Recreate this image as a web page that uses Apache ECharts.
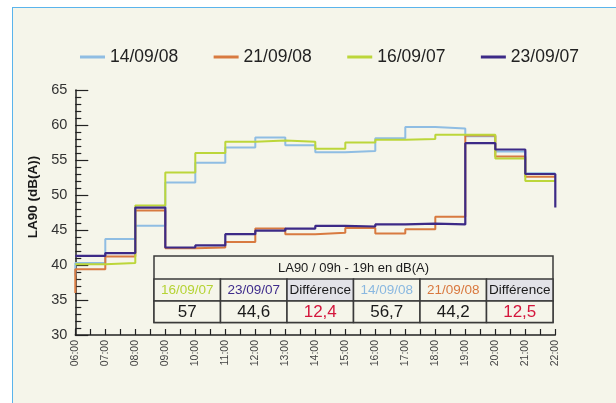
<!DOCTYPE html>
<html>
<head>
<meta charset="utf-8">
<script src="https://cdn.jsdelivr.net/npm/echarts@6.0.0/dist/echarts.min.js"></script>
<style>
html,body{margin:0;padding:0;background:#ffffff;}
#wrap{position:relative;width:616px;height:403px;overflow:hidden;}
#bg{position:absolute;left:12px;top:7px;right:0;bottom:0;background:#f5f5ea;border-left:1.5px solid #5ab4ec;border-top:1.5px solid #5ab4ec;}
#chart{position:absolute;left:0;top:0;width:616px;height:403px;}
</style>
</head>
<body>
<div id="wrap"><div id="bg"></div><div id="chart"></div></div>
<script>
// ---- data ----
var hours = [6,7,8,9,10,11,12,13,14,15,16,17,18,19,20,21,22];
var seriesNames = ['14/09/08','21/09/08','16/09/07','23/09/07'];
// value held from each hour to the next (last entry = value at 22:00)
var la90_140908 = [40.3,43.7,45.6,51.8,54.6,56.8,58.2,57.1,56.1,56.3,58.1,59.7,59.5,58.4,56.2,53.1,53.1];
var la90_210908 = [39.4,41.2,47.8,42.4,42.5,43.3,45.2,44.4,44.6,45.3,44.5,45.1,46.9,58.5,55.5,52.6,52.6];
var la90_160907 = [40.1,40.3,48.5,53.2,56.0,57.6,57.8,57.6,56.6,57.5,57.9,58.0,58.6,58.6,55.2,52.0,52.0];
var la90_230907 = [41.3,41.7,48.2,42.5,42.8,44.4,44.9,45.2,45.6,45.5,45.8,45.9,45.8,57.4,56.5,53.0,48.2];
// value the line rises from at 06:00 (null = none)
var startValues = [38.5, 36.0, null, null];
var yTicks = [30,35,40,45,50,55,60,65];
var tableTitle = 'LA90 / 09h - 19h en dB(A)';
var tableHeaders = ['16/09/07','23/09/07','Différence','14/09/08','21/09/08','Différence'];
var tableValues = ['57','44,6','12,4','56,7','44,2','12,5'];

// ---- styles ----
var colors = ['#8fbde3','#d87a40','#bcd63a','#3c2a87'];
var headerColors = ['#b5d334','#3f2d8c','#1a1a1a','#8ab8e0','#d9783e','#1a1a1a'];
var valueColors = ['#1a1a1a','#1a1a1a','#d4163c','#1a1a1a','#1a1a1a','#d4163c'];
var headerFill = ['#f5f5ea','#f5f5ea','#e3e3e8','#f5f5ea','#f5f5ea','#e3e3e8'];
var FONT = '"Liberation Sans", Arial, sans-serif';

var allVals = [la90_140908, la90_210908, la90_160907, la90_230907];
function buildPts(idx){
  var pts = [];
  if (startValues[idx] !== null) pts.push([hours[0], startValues[idx]]);
  for (var i=0;i<hours.length;i++) pts.push([hours[i], allVals[idx][i]]);
  return pts;
}
var series = seriesNames.map(function(n,i){
  return {name:n,type:'line',step:'end',symbol:'none',data:buildPts(i),
    lineStyle:{color:colors[i],width:i===3?2.2:2},itemStyle:{color:colors[i]},z:2+i,animation:false};
});

// table as graphic
var tx = 154, ty = 256, cw = 66.5, rh = [23, 22, 21.5];
var g = [];
var tw = cw*6;
g.push({type:'rect',shape:{x:tx,y:ty,width:tw,height:rh[0]+rh[1]+rh[2]},style:{fill:'#f5f5ea',stroke:'#3a3a3a',lineWidth:1.5},z:10});
for (var c=0;c<6;c++){
  g.push({type:'rect',shape:{x:tx+c*cw,y:ty+rh[0],width:cw,height:rh[1]},style:{fill:headerFill[c],stroke:'#3a3a3a',lineWidth:1.5},z:11});
  g.push({type:'rect',shape:{x:tx+c*cw,y:ty+rh[0]+rh[1],width:cw,height:rh[2]},style:{fill:'#f5f5ea',stroke:'#3a3a3a',lineWidth:1.5},z:11});
  g.push({type:'text',x:tx+c*cw+cw/2,y:ty+rh[0]+rh[1]/2+0.5,style:{text:tableHeaders[c],fill:headerColors[c],font:'13.5px '+FONT,align:'center',verticalAlign:'middle'},z:12});
  g.push({type:'text',x:tx+c*cw+cw/2,y:ty+rh[0]+rh[1]+rh[2]/2+0.5,style:{text:tableValues[c],fill:valueColors[c],font:'17px '+FONT,align:'center',verticalAlign:'middle'},z:12});
}
g.push({type:'text',x:tx+tw/2,y:ty+rh[0]/2+0.5,style:{text:tableTitle,fill:'#1a1a1a',font:'13px '+FONT,align:'center',verticalAlign:'middle'},z:12});
g.push({type:'text',x:33,y:197,rotation:Math.PI/2,style:{text:'LA90 (dB(A))',fill:'#1a1a1a',font:'bold 13.5px '+FONT,align:'center',verticalAlign:'middle'},z:12});

var chart = echarts.init(document.getElementById('chart'), null, {renderer:'canvas'});
chart.setOption({
  backgroundColor:'transparent',
  animation:false,
  textStyle:{fontFamily:FONT},
  legend:{data:seriesNames,left:80,top:48,padding:0,itemGap:35.5,itemWidth:25,itemHeight:3,icon:'rect',
    textStyle:{fontSize:17.5,color:'#222',fontFamily:FONT},selectedMode:false},
  grid:{left:75.3,right:60.7,top:90,bottom:68,containLabel:false},
  xAxis:{type:'value',min:6,max:22,interval:1,
    axisLine:{lineStyle:{color:'#222',width:1.5}},
    axisTick:{inside:true,length:6,lineStyle:{color:'#222',width:1.2}},
    minorTick:{show:true,splitNumber:2,length:6,lineStyle:{color:'#222',width:1.2}},
    splitLine:{show:false},
    axisLabel:{rotate:90,fontSize:10.5,color:'#444',margin:5,fontFamily:FONT,
      formatter:function(v){return (v<10?'0':'')+v+':00';}}},
  yAxis:{type:'value',min:yTicks[0],max:yTicks[yTicks.length-1],interval:5,
    axisLine:{show:true,lineStyle:{color:'#222',width:1.5}},
    axisTick:{show:true,inside:true,length:13,lineStyle:{color:'#222',width:1.2}},
    minorTick:{show:true,splitNumber:5,length:6,lineStyle:{color:'#222',width:1.2}},
    splitLine:{show:false},
    axisLabel:{fontSize:14.5,color:'#333',margin:8,fontFamily:FONT}},
  series:series,
  graphic:g
});
</script>
</body>
</html>
